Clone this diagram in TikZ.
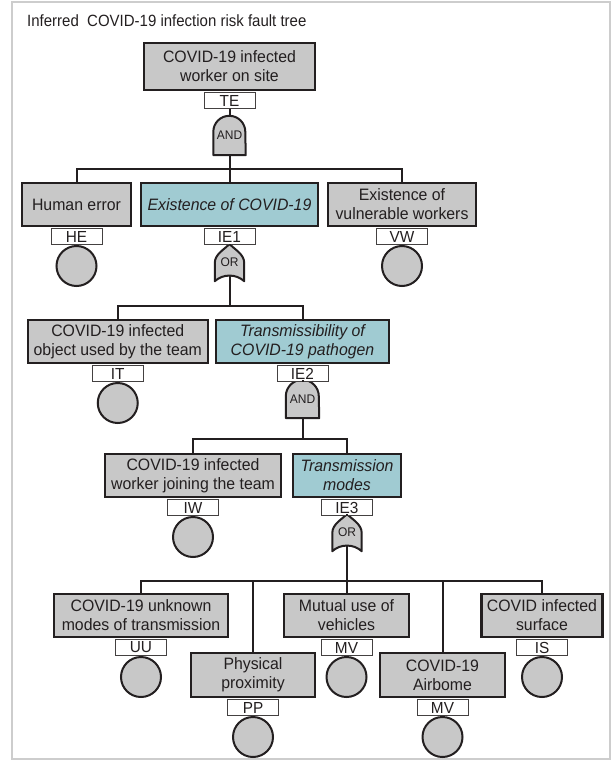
\documentclass[tikz,border=0pt]{standalone}
\usepackage{fontspec}
\setmainfont{Liberation Sans}
\newfontfamily\titlefont[FakeStretch=0.92]{Liberation Sans}
\newfontfamily\boxfont[FakeStretch=0.96]{Liberation Sans}
\usetikzlibrary{calc}
\definecolor{ink}{HTML}{231F20}
\definecolor{boxgray}{HTML}{C8C8C8}
\definecolor{boxteal}{HTML}{A0CBD2}
\definecolor{framegray}{HTML}{CDCDCD}
\pgfdeclarelayer{bg}
\pgfsetlayers{bg,main}
\newcommand\andshape[2]{\draw[gateshape] (#1.south west) -- ([yshift=-#2]#1.north west) arc[start angle=180,end angle=0,radius=#2] -- (#1.south east) -- cycle;}
\newcommand\orshape[1]{\draw[gateshape] (#1.south west) -- ([yshift=-19pt]#1.north west) .. controls ([yshift=-10pt]#1.north west) and ([xshift=-4pt,yshift=-5pt]#1.north) .. (#1.north) .. controls ([xshift=4pt,yshift=-5pt]#1.north) and ([yshift=-10pt]#1.north east) .. ([yshift=-19pt]#1.north east) -- (#1.south east) .. controls ([xshift=-8pt,yshift=7.5pt]#1.south east) and ([xshift=8pt,yshift=7.5pt]#1.south west) .. (#1.south west) -- cycle;}
\begin{document}
\begin{tikzpicture}[x=1pt,y=-1pt,
  event/.style={draw=ink, line width=2.2pt, fill=boxgray, inner sep=0pt, minimum height=43pt, align=center, font=\boxfont\fontsize{16.5}{19}\selectfont, text=ink},
  inter/.style={event, fill=boxteal, font=\boxfont\itshape\fontsize{16.5}{19}\selectfont},
  tag/.style={draw=ink!85, line width=0.9pt, fill=white, minimum width=51pt, minimum height=16pt, inner sep=0pt, font=\boxfont\fontsize{16}{16}\selectfont, text=ink, anchor=north},
  basic/.style={circle, draw=ink, line width=2pt, fill=boxgray, minimum size=40pt, inner sep=0pt, anchor=north},
  andg/.style={inner sep=0pt, minimum width=32pt, minimum height=39pt, font=\boxfont\fontsize{12.5}{13}\selectfont, text=ink},
  org/.style={inner sep=0pt, minimum width=29pt, minimum height=37pt, font=\boxfont\fontsize{12.5}{13}\selectfont, text=ink},
  gateshape/.style={draw=ink, line width=2pt, fill=boxgray, line join=round},
  wire/.style={draw=ink, line width=2pt},
  ttl/.style={anchor=base west, inner sep=0pt, font=\titlefont\fontsize{16.3}{19}\selectfont, text=ink}
]
\useasboundingbox (0,0) rectangle (614,762);
\begin{pgfonlayer}{bg}
\draw[framegray, line width=2.5pt] (12,2) rectangle (610,759);
\end{pgfonlayer}

\node[ttl] (title) at (27,27) {Inferred\ \ COVID-19 infection risk fault tree};

% top event
\node[event, minimum width=171pt, minimum height=47pt] (te) at (229.5,66.5) {COVID-19 infected\\worker on site};
\node[tag] (teT) at ([yshift=-1pt]te.south) {TE};
\node[andg] (g0) at (229.5,135.5) {AND};

% level 1
\node[event, minimum width=109pt] (he) at (76.5,204.5) {Human error};
\node[inter, minimum width=177pt] (ie1) at (229.5,204.5) {Existence of COVID-19};
\node[event, minimum width=148pt] (vw) at (402,204.5) {Existence of\\vulnerable workers};
\node[tag] (heT) at ([yshift=-1pt]he.south) {HE};
\node[tag] (ie1T) at ([yshift=-1pt]ie1.south) {IE1};
\node[tag] (vwT) at ([yshift=-1pt]vw.south) {VW};
\node[basic] (heC) at (heT.south) {};
\node[basic] (vwC) at (vwT.south) {};
\node[org] (g1) at (229.5,262.5) {OR};

% level 2
\node[event, minimum width=180pt] (it) at (117.75,341.5) {COVID-19 infected\\object used by the team};
\node[inter, minimum width=173pt] (ie2) at (302.5,341.5) {Transmissibility of\\COVID-19 pathogen};
\node[tag] (itT) at ([yshift=-1pt]it.south) {IT};
\node[tag] (ie2T) at ([yshift=-1pt]ie2.south) {IE2};
\node[basic] (itC) at (itT.south) {};
\node[andg, minimum width=33pt, minimum height=38pt] (g2) at (302.5,399) {AND};

% level 3
\node[event, minimum width=176pt] (iw) at (193,475.5) {COVID-19 infected\\worker joining the team};
\node[inter, minimum width=108pt] (ie3) at (347,475.5) {Transmission\\modes};
\node[tag] (iwT) at ([yshift=-1pt]iw.south) {IW};
\node[tag] (ie3T) at ([yshift=-1pt]ie3.south) {IE3};
\node[basic] (iwC) at (iwT.south) {};
\node[org] (g3) at (347,532.5) {OR};

% level 4
\node[event, minimum width=173.5pt] (uu) at (141,615.5) {COVID-19 unknown\\modes of transmission};
\node[event, minimum width=125pt] (mv) at (346.5,615.5) {Mutual use of\\vehicles};
\node[event, minimum width=121pt] (is) at (542,615.5) {COVID infected\\surface};
\node[event, minimum width=124pt, minimum height=44pt] (pp) at (253,675) {Physical\\proximity};
\node[event, minimum width=125pt, minimum height=44pt] (ab) at (442.5,675) {COVID-19\\Airbome};
\node[tag] (uuT) at ([yshift=-1pt]uu.south) {UU};
\node[tag] (mvT) at ([yshift=-1pt]mv.south) {MV};
\node[tag] (isT) at ([yshift=-1pt]is.south) {IS};
\node[tag] (ppT) at ([yshift=-1pt]pp.south) {PP};
\node[tag] (abT) at ([yshift=-1pt]ab.south) {MV};
\node[basic] (uuC) at (uuT.south) {};
\node[basic] (mvC) at (mvT.south) {};
\node[basic] (isC) at (isT.south) {};
\node[basic] (ppC) at (ppT.south) {};
\node[basic] (abC) at (abT.south) {};

% gate shapes
\begin{pgfonlayer}{bg}
\andshape{g0}{16pt}
\orshape{g1}
\andshape{g2}{16.5pt}
\orshape{g3}
\end{pgfonlayer}

% connectors
\draw[wire] (teT.south) -- (g0.north);
\draw[wire] (g0.south) -- ++(0,14) -| (he.north);
\draw[wire] (g0.south) -- ++(0,14) -| (ie1.north);
\draw[wire] (g0.south) -- ++(0,14) -| (vw.north);

\draw[wire] (ie1T.south) -- (g1.north);
\draw[wire] ([yshift=5.5pt]g1.south) -- (g1.south |- 0,306) -| (it.north);
\draw[wire] ([yshift=5.5pt]g1.south) -- (g1.south |- 0,306) -| (ie2.north);

\draw[wire] (ie2T.south) -- (g2.north);
\draw[wire] (g2.south) -- ++(0,21) -| (iw.north);
\draw[wire] (g2.south) -- ++(0,21) -| (ie3.north);

\draw[wire] (ie3T.south) -- (g3.north);
\draw[wire] ([yshift=5.5pt]g3.south) -- (g3.south |- 0,581) -| (uu.north);
\draw[wire] ([yshift=5.5pt]g3.south) -- (g3.south |- 0,581) -| (pp.north);
\draw[wire] ([yshift=5.5pt]g3.south) -- (g3.south |- 0,581) -| (mv.north);
\draw[wire] ([yshift=5.5pt]g3.south) -- (g3.south |- 0,581) -| (ab.north);
\draw[wire] ([yshift=5.5pt]g3.south) -- (g3.south |- 0,581) -| (is.north);
\end{tikzpicture}
\end{document}
